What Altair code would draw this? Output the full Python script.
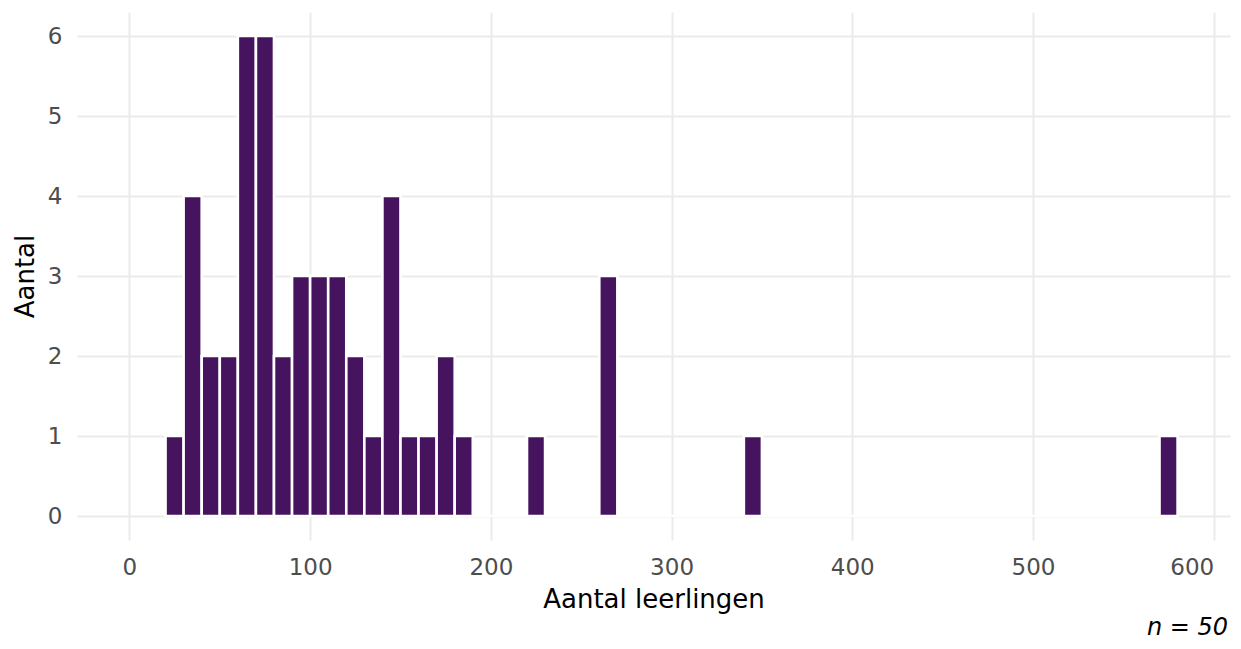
import altair as alt
import pandas as pd

# Histogram of school sizes (bin width 10)
bin_start = list(range(20, 580, 10))
counts = [1, 4, 2, 2, 6, 6, 2, 3, 3, 3, 2, 1, 4, 1, 1, 2, 1,   # 20..180
          0, 0, 0, 1, 0, 0, 0, 3,                             # 190..260
          0, 0, 0, 0, 0, 0, 0, 1,                             # 270..340
          0, 0, 0, 0, 0, 0, 0, 0, 0, 0, 0, 0, 0, 0, 0, 0, 0, 0, 0, 0, 0, 0,  # 350..560
          1]                                                  # 570
x_ticks = [0, 100, 200, 300, 400, 500, 600]
y_ticks = [0, 1, 2, 3, 4, 5, 6]
x_title = "Aantal leerlingen"
y_title = "Aantal"
caption = "n = 50"

df = pd.DataFrame({
    "start": bin_start,
    "end": [b + 10 for b in bin_start],
    "count": counts,
    "zero": [0] * len(bin_start),
})

FONT = "DejaVu Sans"
W, H = 1153, 528

xscale = alt.Scale(domain=[-29, 609], nice=False, zero=False)
yscale = alt.Scale(domain=[-0.3, 6.3], nice=False, zero=False)

bars = alt.Chart(df).mark_rect(
    fill="#46145E", stroke="white", strokeWidth=2.6
).encode(
    x=alt.X("start:Q", scale=xscale, axis=alt.Axis(
        values=x_ticks, title=x_title, grid=True, gridColor="#EBEBEB", gridWidth=2,
        domain=False, ticks=False, tickSize=0, labelFont=FONT, labelFontSize=23,
        labelColor="#4D4D4D", labelBaseline="alphabetic", labelPadding=34,
        titleFont=FONT, titleFontSize=26, titleFontWeight="normal", titleColor="black",
        titleBaseline="alphabetic", titleY=67, labelFlush=20)),
    x2="end:Q",
    y=alt.Y("count:Q", scale=yscale, axis=alt.Axis(
        values=y_ticks, title=y_title, grid=True, gridColor="#EBEBEB", gridWidth=2,
        domain=False, ticks=False, tickSize=0, labelFont=FONT, labelFontSize=23,
        labelColor="#4D4D4D", labelPadding=15, labelFlush=False,
        titleFont=FONT, titleFontSize=26, titleFontWeight="normal", titleColor="black",
        titleBaseline="alphabetic", titleX=-44, titleAngle=270)),
    y2="zero:Q",
)

cap = alt.Chart(pd.DataFrame({"t": [caption]})).mark_text(
    font=FONT, fontSize=24, fontStyle="italic", align="right", baseline="alphabetic",
    color="black"
).encode(text="t:N", x=alt.value(W - 2), y=alt.value(H + 95))

chart = alt.layer(bars, cap).properties(
    width=W, height=H,
    autosize=alt.AutoSizeParams(type="none"),
    padding={"left": 69, "top": 4, "right": 3, "bottom": 101},
).configure_view(stroke=None)

chart.save("out.html", embed_options={"renderer": "svg", "actions": False})
